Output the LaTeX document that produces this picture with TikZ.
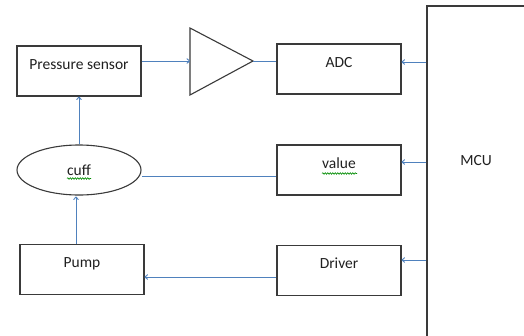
\documentclass[tikz,border=0pt]{standalone}
\usepackage{fontspec}
\setmainfont{Carlito}
\usetikzlibrary{arrows.meta,shapes.geometric,decorations.pathmorphing}
\definecolor{lineblue}{HTML}{4F81BD}
\definecolor{boxgray}{HTML}{3A3A3A}
\definecolor{txtgray}{HTML}{202020}
\begin{document}
\begin{tikzpicture}[x=1bp,y=-1bp,
  blk/.style={draw=boxgray,line width=1.1bp,rectangle,minimum width=124bp,minimum height=50bp,
    font=\fontsize{15.5bp}{18bp}\selectfont,text=txtgray,text height=10bp,text depth=14bp,inner sep=0pt},
  conn/.style={draw=lineblue,line width=0.9bp},
  arr/.style={conn,-{To[length=3.5bp,width=5.5bp]}},
  lbl/.style={font=\fontsize{15.5bp}{18bp}\selectfont,text=txtgray,inner sep=0pt},
  squig/.style={draw=green!55!black,line width=0.6bp,decorate,decoration={snake,amplitude=0.8bp,segment length=2.5bp}}]
\useasboundingbox (0,0) rectangle (524,335);
\fill[white] (0,0) rectangle (524,335);
\begin{scope}
\clip (0,0) rectangle (524,335);
\node[draw=boxgray,line width=1.1bp,rectangle,minimum width=120bp,minimum height=340bp,inner sep=0pt] (mcu) at (487,176) {};
\end{scope}
\node[lbl] (mcutext) at (476,161) {MCU};
\node[blk] (ps) at (79,71) {Pressure sensor};
\node[blk] (adc) at (339,69) {ADC};
\node[blk] (val) at (339,170) {value};
\node[blk] (drv) at (339,270.5) {Driver};
\node[blk] (pump) at (82,269.5) {Pump};
\node[draw=boxgray,line width=1.1bp,ellipse,minimum width=124bp,minimum height=50bp,inner sep=0pt,
  font=\fontsize{15.5bp}{18bp}\selectfont,text=txtgray] (cuff) at (79,170) {cuff};
% amplifier triangle
\draw[boxgray,line width=1.1bp,line join=miter] (190,28) -- (253,61) -- (190,95) -- cycle;
\coordinate (ampin) at (190,61);
\coordinate (ampout) at (253,61);
\coordinate (cuffbot) at (76,196.5);
% spelling squiggles
\draw[squig] (67,178.5) -- (91,178.5);
\draw[squig] (322,173.5) -- (357,173.5);
% connectors
\draw[arr] (ps.east |- ampin) -- (ampin);
\draw[conn] (ampout) -- (adc.west |- ampout);
\draw[arr] (mcu.west |- 0,62) -- (adc.east |- 0,62);
\draw[arr] (mcu.west |- 0,162) -- (val.east |- 0,162);
\draw[arr] (mcu.west |- 0,260) -- (drv.east |- 0,260);
\draw[conn] (val.west |- 0,176) -- (cuff.east |- 0,176);
\draw[arr] (drv.west |- 0,277) -- (pump.east |- 0,277);
\draw[arr] (cuff.north) -- (ps.south);
\draw[arr] (pump.north -| cuffbot) -- (cuffbot);
\end{tikzpicture}
\end{document}
